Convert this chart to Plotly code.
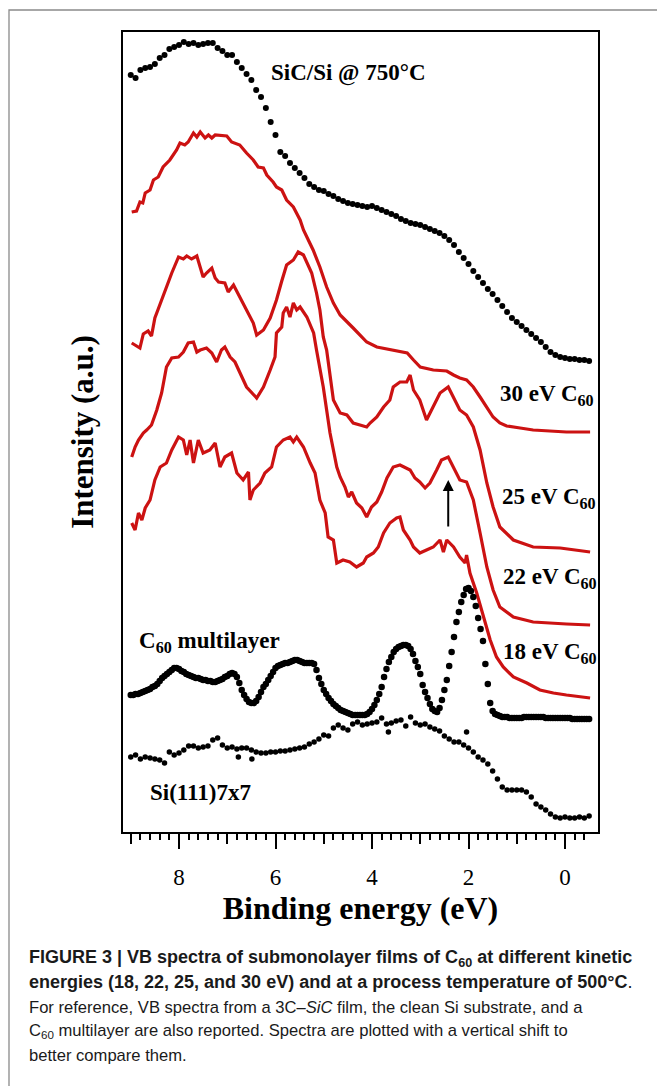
import plotly.graph_objects as go

# ---------------- data (binding energy in eV, intensity in a.u. incl. vertical shift) ----------------
sic_x = [9.0, 8.9, 8.8, 8.7, 8.6, 8.5, 8.4, 8.3, 8.2, 8.1, 8.0, 7.9, 7.8, 7.7, 7.6, 7.5, 7.4, 7.3, 7.2, 7.1,
         7.0, 6.9, 6.8, 6.7, 6.6, 6.5, 6.4, 6.3, 6.2, 6.1, 6.0, 5.9, 5.8, 5.7, 5.6, 5.5, 5.4, 5.3, 5.2, 5.1,
         5.0, 4.9, 4.8, 4.7, 4.6, 4.5, 4.4, 4.3, 4.2, 4.1, 4.0, 3.9, 3.8, 3.7, 3.6, 3.5, 3.4, 3.3, 3.2, 3.1,
         3.0, 2.9, 2.8, 2.7, 2.6, 2.5, 2.4, 2.3, 2.2, 2.1, 2.0, 1.9, 1.8, 1.7, 1.6, 1.5, 1.4, 1.3, 1.2, 1.1,
         1.0, 0.9, 0.8, 0.7, 0.6, 0.5, 0.4, 0.3, 0.2, 0.1, 0.0, -0.1, -0.2, -0.3, -0.4, -0.5]
sic_y = [757, 754, 762, 764, 765, 768, 774, 777, 783, 785, 787, 790, 788, 789, 787, 788, 789, 789, 784, 781,
         777, 777, 770, 764, 758, 752, 742, 735, 724, 710, 697, 680, 676, 669, 664, 659, 654, 648, 645, 642,
         641, 638, 636, 633, 631, 629, 628, 627, 626, 625, 626, 624, 622, 620, 618, 616, 613, 611, 609, 608,
         607, 605, 603, 601, 599, 596, 592, 587, 580, 574, 568, 561, 555, 549, 543, 538, 532, 526, 520, 514,
         510, 506, 502, 498, 494, 490, 485, 480, 477, 475, 474, 473, 473, 472, 472, 471]

ev30_x = [8.98, 8.88, 8.81, 8.75, 8.70, 8.60, 8.53, 8.43, 8.33, 8.19, 8.05, 7.98, 7.88, 7.81, 7.70, 7.63,
          7.56, 7.46, 7.39, 7.32, 7.25, 7.01, 6.91, 6.74, 6.60, 6.46, 6.36, 6.25, 6.18, 6.05, 5.98, 5.87,
          5.77, 5.63, 5.49, 5.42, 5.32, 5.22, 5.08, 4.94, 4.80, 4.66, 4.39, 4.11, 3.90, 3.55, 3.27, 3.14,
          3.00, 2.73, 2.45, 2.31, 2.18, 2.04, 1.90, 1.76, 1.62, 1.49, 1.35, 1.21, 0.93, 0.66, -0.03, -0.52]
ev30_y = [620, 621, 630, 629, 639, 642, 652, 655, 665, 672, 682, 689, 687, 690, 699, 695,
          700, 694, 697, 694, 697, 696, 690, 687, 679, 672, 665, 664, 657, 650, 645, 642,
          632, 625, 612, 602, 592, 582, 565, 545, 529, 517, 504, 490, 485, 482, 479, 472,
          465, 462, 461, 457, 454, 452, 445, 435, 425, 415, 409, 406, 404, 402, 400, 400]

ev25_x = [8.98, 8.88, 8.81, 8.74, 8.64, 8.57, 8.50, 8.43, 8.33, 8.26, 8.15, 8.01, 7.91, 7.84, 7.74, 7.63,
          7.56, 7.50, 7.43, 7.32, 7.25, 7.18, 7.05, 6.98, 6.87, 6.74, 6.60, 6.46, 6.39, 6.25, 6.11, 5.98,
          5.87, 5.77, 5.63, 5.53, 5.42, 5.35, 5.25, 5.15, 5.08, 5.01, 4.94, 4.80, 4.66, 4.52, 4.39, 4.25,
          4.11, 4.04, 3.90, 3.76, 3.63, 3.56, 3.42, 3.28, 3.21, 3.14, 3.01, 2.87, 2.73, 2.59, 2.42, 2.31,
          2.18, 2.04, 1.90, 1.76, 1.62, 1.49, 1.35, 1.07, 0.66, 0.10, -0.52]
ev25_y = [489, 486, 484, 498, 501, 496, 514, 523, 536, 545, 559, 575, 573, 576, 573, 576,
          565, 555, 559, 564, 554, 550, 549, 540, 547, 535, 522, 509, 497, 502, 514, 532,
          551, 567, 572, 580, 577, 569, 559, 539, 522, 495, 482, 432, 419, 417, 409, 407,
          405, 409, 415, 425, 432, 445, 450, 450, 457, 442, 432, 412, 425, 439, 445, 435,
          422, 417, 405, 382, 349, 325, 305, 292, 285, 284, 280]

ev22_x = [8.98, 8.91, 8.84, 8.74, 8.67, 8.57, 8.46, 8.36, 8.26, 8.15, 8.01, 7.91, 7.81, 7.70, 7.63, 7.56,
          7.43, 7.32, 7.22, 7.12, 7.05, 6.94, 6.84, 6.74, 6.60, 6.39, 6.25, 6.11, 6.01, 5.98, 5.87, 5.84,
          5.77, 5.70, 5.63, 5.56, 5.49, 5.35, 5.21, 5.15, 5.08, 5.01, 4.94, 4.87, 4.80, 4.73, 4.66, 4.56,
          4.49, 4.42, 4.32, 4.21, 4.11, 4.01, 3.90, 3.80, 3.69, 3.56, 3.42, 3.32, 3.21, 3.11, 3.01, 2.90,
          2.80, 2.66, 2.56, 2.42, 2.31, 2.18, 2.04, 1.90, 1.76, 1.62, 1.49, 1.35, 1.07, 0.66, -0.03, -0.52]
ev22_y = [375, 385, 392, 399, 402, 407, 422, 439, 465, 474, 475, 480, 489, 490, 480, 482,
          484, 479, 470, 482, 485, 475, 470, 459, 445, 434, 445, 462, 475, 499, 505, 519,
          525, 515, 529, 522, 525, 515, 499, 482, 465, 445, 422, 399, 382, 365, 355, 345,
          335, 340, 329, 324, 315, 325, 330, 340, 354, 365, 367, 365, 362, 354, 350, 344,
          349, 362, 372, 375, 364, 352, 350, 332, 299, 265, 242, 225, 215, 210, 208, 207]

ev18_x = [8.98, 8.91, 8.84, 8.77, 8.70, 8.60, 8.50, 8.39, 8.26, 8.15, 8.01, 7.91, 7.84, 7.77, 7.70, 7.60,
          7.50, 7.36, 7.25, 7.15, 7.05, 6.91, 6.80, 6.67, 6.56, 6.53, 6.46, 6.32, 6.22, 6.08, 5.98, 5.84,
          5.70, 5.63, 5.56, 5.42, 5.28, 5.18, 5.08, 4.97, 4.91, 4.80, 4.73, 4.60, 4.46, 4.32, 4.18, 4.11,
          3.97, 3.87, 3.76, 3.63, 3.49, 3.42, 3.35, 3.21, 3.14, 3.01, 2.87, 2.73, 2.59, 2.52, 2.45, 2.31,
          2.18, 2.07, 2.04, 1.97, 1.83, 1.69, 1.55, 1.42, 1.28, 1.07, 0.79, 0.52, 0.24, -0.03, -0.31, -0.52]
ev18_y = [309, 302, 319, 312, 324, 332, 352, 365, 369, 382, 395, 392, 377, 392, 369, 392,
          379, 382, 389, 365, 375, 379, 359, 352, 360, 332, 342, 349, 359, 365, 385, 392,
          395, 390, 395, 385, 369, 359, 332, 319, 295, 292, 269, 272, 270, 265, 269, 275,
          279, 285, 299, 309, 314, 315, 302, 292, 285, 279, 282, 285, 292, 280, 292, 285,
          275, 269, 277, 259, 239, 215, 192, 175, 165, 155, 149, 142, 139, 137, 135, 134]

ml_x = [9.00, 8.95, 8.90, 8.85, 8.80, 8.75, 8.70, 8.65, 8.60, 8.55, 8.50, 8.45, 8.40, 8.35, 8.30, 8.25,
        8.20, 8.15, 8.10, 8.05, 8.00, 7.95, 7.90, 7.85, 7.80, 7.75, 7.70, 7.65, 7.60, 7.55, 7.50, 7.45,
        7.40, 7.35, 7.30, 7.25, 7.20, 7.15, 7.10, 7.05, 7.00, 6.95, 6.90, 6.85, 6.80, 6.75, 6.70, 6.65,
        6.60, 6.55, 6.50, 6.45, 6.40, 6.35, 6.30, 6.25, 6.20, 6.15, 6.10, 6.05, 6.00, 5.95, 5.90, 5.85,
        5.80, 5.75, 5.70, 5.65, 5.60, 5.55, 5.50, 5.45, 5.40, 5.35, 5.30, 5.25, 5.20, 5.15, 5.10, 5.05,
        5.00, 4.95, 4.90, 4.85, 4.80, 4.75, 4.70, 4.65, 4.60, 4.55, 4.50, 4.45, 4.40, 4.35, 4.30, 4.25,
        4.20, 4.15, 4.10, 4.05, 4.00, 3.95, 3.90, 3.85, 3.80, 3.75, 3.70, 3.65, 3.60, 3.55, 3.50, 3.45,
        3.40, 3.35, 3.30, 3.25, 3.20, 3.15, 3.10, 3.05, 3.00, 2.95, 2.90, 2.85, 2.80, 2.75, 2.70, 2.65,
        2.60, 2.55, 2.50, 2.45, 2.40, 2.35, 2.30, 2.25, 2.20, 2.15, 2.10, 2.05, 2.00, 1.95, 1.90, 1.85,
        1.80, 1.75, 1.70, 1.65, 1.60, 1.55, 1.50, 1.45, 1.40, 1.35, 1.30, 1.25, 1.20, 1.15, 1.10, 1.05,
        1.00, 0.95, 0.90, 0.85, 0.80, 0.75, 0.70, 0.65, 0.60, 0.55, 0.50, 0.45, 0.40, 0.35, 0.30, 0.25,
        0.20, 0.15, 0.10, 0.05, 0.00, -0.05, -0.10, -0.15, -0.20, -0.25, -0.30, -0.35, -0.40, -0.45, -0.50]
ml_y = [137, 137, 138, 138, 139, 140, 141, 142, 143, 145, 146, 148, 151, 154, 156, 158,
        160, 162, 164, 164, 163, 161, 160, 158, 157, 156, 155, 154, 154, 153, 152, 152,
        151, 151, 150, 150, 151, 152, 153, 155, 156, 158, 159, 158, 155, 149, 142, 137,
        133, 130, 129, 129, 131, 135, 140, 145, 148, 152, 156, 160, 164, 166, 167, 168,
        169, 169, 170, 171, 172, 172, 171, 170, 169, 169, 169, 169, 168, 162, 154, 148,
        142, 138, 134, 131, 128, 126, 124, 122, 121, 120, 119, 118, 117, 117, 117, 117,
        117, 117, 118, 120, 123, 127, 132, 138, 145, 155, 163, 170, 175, 180, 183, 185,
        186, 187, 187, 186, 183, 178, 171, 165, 158, 147, 140, 134, 128, 123, 121, 120,
        124, 132, 142, 152, 166, 180, 195, 210, 220, 230, 237, 243, 244, 241, 235, 226,
        214, 203, 191, 168, 148, 129, 121, 118, 117, 116, 115, 115, 115, 114, 114, 114,
        114, 114, 114, 115, 115, 115, 115, 115, 115, 115, 115, 115, 114, 114, 114, 114,
        114, 114, 114, 114, 114, 114, 114, 113, 113, 113, 113, 113, 113, 113, 113]

si_x = [9.0, 8.9, 8.8, 8.7, 8.6, 8.5, 8.4, 8.3, 8.2, 8.1, 8.0, 7.9, 7.8, 7.7, 7.6, 7.5, 7.4, 7.3, 7.2, 7.1,
        7.0, 6.9, 6.8, 6.77, 6.7, 6.6, 6.5, 6.49, 6.4, 6.3, 6.2, 6.1, 6.0, 5.9, 5.8, 5.7, 5.6, 5.5, 5.4, 5.3,
        5.2, 5.1, 5.0, 4.9, 4.8, 4.7, 4.6, 4.5, 4.4, 4.3, 4.2, 4.1, 4.0, 3.9, 3.8, 3.7, 3.66, 3.6, 3.5, 3.4,
        3.3, 3.2, 3.1, 3.0, 2.9, 2.8, 2.7, 2.6, 2.5, 2.4, 2.3, 2.2, 2.1, 2.04, 2.0, 1.9, 1.8, 1.7, 1.6, 1.5,
        1.4, 1.3, 1.2, 1.1, 1.0, 0.9, 0.8, 0.7, 0.6, 0.5, 0.4, 0.3, 0.2, 0.1, 0.0, -0.1, -0.2, -0.3, -0.4, -0.5]
si_y = [75, 77, 73, 75, 74, 73, 72, 69, 80, 77, 79, 82, 86, 86, 84, 85, 86, 92, 94, 87,
        84, 85, 83, 75, 84, 84, 82, 73, 80, 79, 79, 80, 80, 81, 81, 82, 83, 84, 85, 88,
        90, 93, 97, 96, 104, 107, 104, 102, 108, 110, 107, 108, 109, 110, 114, 108, 100, 109, 111, 112,
        106, 115, 109, 107, 108, 105, 103, 101, 96, 93, 90, 90, 87, 100, 84, 80, 75, 72, 68, 61,
        53, 45, 42, 42, 42, 42, 40, 35, 28, 25, 22, 18, 15, 14, 15, 14, 14, 15, 14, 16]

x_tick_vals = [8, 6, 4, 2, 0]
x_tick_text = ["8", "6", "4", "2", "0"]
x_mid_ticks = [9, 7, 5, 3, 1]
x_minor_ticks = [round(9.0 - 0.2 * i, 1) for i in range(48)]

RED = "#cc1212"
SERIF = "Liberation Serif"
SANS = "Liberation Sans"

fig = go.Figure()
fig.add_trace(go.Scatter(x=sic_x, y=sic_y, mode="markers", name="SiC/Si @ 750°C",
                         marker=dict(color="black", size=6)))
for xs, ys, nm in [(ev30_x, ev30_y, "30 eV C60"), (ev25_x, ev25_y, "25 eV C60"),
                   (ev22_x, ev22_y, "22 eV C60"), (ev18_x, ev18_y, "18 eV C60")]:
    fig.add_trace(go.Scatter(x=xs, y=ys, mode="lines", name=nm,
                             line=dict(color=RED, width=3.2)))
fig.add_trace(go.Scatter(x=ml_x, y=ml_y, mode="markers", name="C60 multilayer",
                         marker=dict(color="black", size=6.5)))
fig.add_trace(go.Scatter(x=si_x, y=si_y, mode="markers", name="Si(111)7x7",
                         marker=dict(color="black", size=5.5)))
# helper trace for the secondary (odd-integer) tick axis
fig.add_trace(go.Scatter(x=[x_mid_ticks[0]], y=[None], xaxis="x2", mode="markers",
                         showlegend=False, hoverinfo="skip"))

L, R, T, B = 123, 59, 32, 254
W, H = 657, 1086
PW, PH = W - L - R, H - T - B


def px(xp):
    return (xp - L) / PW


def py(yp):
    return (H - B - yp) / PH


LBL = dict(family=SERIF, size=23, color="black")
annotations = [
    dict(x=4.48, y=759, text="<b>SiC/Si @ 750°C</b>", showarrow=False, font=LBL),
    dict(x=1.39, y=437, text="<b>30 eV C<sub>60</sub></b>", showarrow=False, xanchor="left", font=LBL),
    dict(x=1.35, y=334, text="<b>25 eV C<sub>60</sub></b>", showarrow=False, xanchor="left", font=LBL),
    dict(x=1.33, y=254, text="<b>22 eV C<sub>60</sub></b>", showarrow=False, xanchor="left", font=LBL),
    dict(x=1.33, y=179, text="<b>18 eV C<sub>60</sub></b>", showarrow=False, xanchor="left", font=LBL),
    dict(x=8.87, y=190, text="<b>C<sub>60</sub> multilayer</b>", showarrow=False, xanchor="left", font=LBL),
    dict(x=8.64, y=40, text="<b>Si(111)7x7</b>", showarrow=False, xanchor="left", font=LBL),
    # arrow marking the HOMO-derived peak
    dict(x=2.42, y=352, ax=2.42, ay=304, axref="x", ayref="y", text="", showarrow=True,
         arrowhead=2, arrowsize=1.1, arrowwidth=2, arrowcolor="black"),
]

caption = [
    ("<b>FIGURE 3 | VB spectra of submonolayer films of C<sub>60</sub> at different kinetic</b>", 958, 18),
    ("<b>energies (18, 22, 25, and 30 eV) and at a process temperature of 500°C</b>.", 982, 18),
    ("For reference, VB spectra from a 3C–<i>SiC</i> film, the clean Si substrate, and a", 1007, 16.6),
    ("C<sub>60</sub> multilayer are also reported. Spectra are plotted with a vertical shift to", 1031, 16.6),
    ("better compare them.", 1055, 16.6),
]
for txt, yp, fs in caption:
    annotations.append(dict(xref="paper", yref="paper", x=px(27), y=py(yp), text=txt,
                            showarrow=False, xanchor="left", yanchor="middle", align="left",
                            font=dict(family=SANS, size=fs, color="#1a1a1a")))

fig.update_layout(
    width=W, height=H, margin=dict(l=L, r=R, t=T, b=B),
    paper_bgcolor="white", plot_bgcolor="white", showlegend=False,
    annotations=annotations,
    shapes=[dict(type="rect", xref="paper", yref="paper", x0=px(9), x1=px(700), y0=py(1200), y1=py(10),
                 line=dict(color="#8a8a8a", width=1.3), layer="below")],
    xaxis=dict(range=[9.1606, -0.684], showline=True, mirror=True, linecolor="black", linewidth=2,
               showgrid=False, zeroline=False, ticks="outside", tickvals=x_tick_vals,
               ticktext=x_tick_text, ticklen=15, tickwidth=1.8, tickcolor="black",
               ticklabelstandoff=8,
               tickfont=dict(family=SERIF, size=23, color="black"),
               minor=dict(tickmode="array", tickvals=x_minor_ticks, ticks="outside", ticklen=6,
                          tickwidth=1.5, tickcolor="black", showgrid=False),
               title=dict(text="<b>Binding energy (eV)</b>", standoff=4,
                          font=dict(family=SERIF, size=32, color="black"))),
    xaxis2=dict(range=[9.1606, -0.684], overlaying="x", anchor="y", side="bottom",
                showline=False, showgrid=False, zeroline=False, ticks="outside",
                tickvals=x_mid_ticks, ticklen=11, tickwidth=1.8, tickcolor="black",
                showticklabels=False),
    yaxis=dict(range=[0, 800], showline=True, mirror=True, linecolor="black", linewidth=2,
               showgrid=False, zeroline=False, ticks="", showticklabels=False,
               title=dict(text="<b>Intensity (a.u.)</b>", standoff=18,
                          font=dict(family=SERIF, size=31, color="black"))),
)

fig.write_html("out.html")
